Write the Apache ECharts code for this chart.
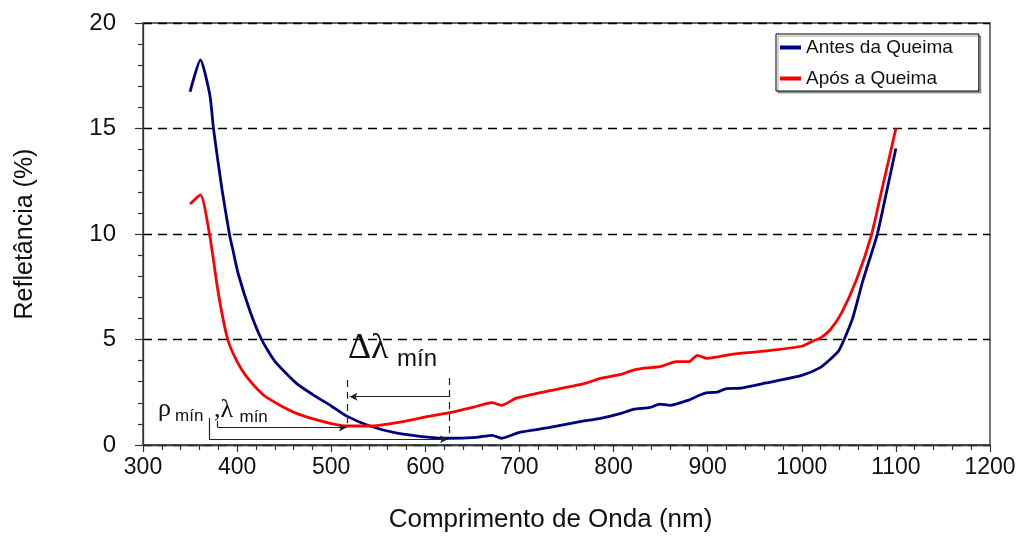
<!DOCTYPE html>
<html><head><meta charset="utf-8">
<script src="https://cdn.jsdelivr.net/npm/echarts@6/dist/echarts.min.js"></script>
<style>html,body{margin:0;padding:0;background:#fff}#c{width:1017px;height:537px}</style>
</head><body><div id="c"></div>
<script>
// ---- data ----
const antesName = 'Antes da Queima';
const aposName = 'Após a Queima';
const antesNm  = [350,361,371,375,384,392,396,401,414,426,440,463,480,500,516,541,570,605,625,654,671,681,700,731,770,786,808,821,839,849,860,878,892,900,910,920,934,962,1000,1020,1030,1039,1045,1054,1065,1080,1089,1100];
const antesVal = [16.74,18.25,16.6,14.95,12.1,9.95,9.15,8.14,6.3,5.0,3.97,2.92,2.4,1.85,1.38,0.9,0.56,0.36,0.32,0.36,0.46,0.32,0.6,0.82,1.15,1.26,1.5,1.69,1.78,1.94,1.88,2.10,2.37,2.48,2.51,2.67,2.69,2.94,3.30,3.68,4.05,4.45,5.0,6.0,7.8,9.95,11.77,14.05];
const aposNm   = [350,361,371,380,390,400,410,428,445,463,480,499,516,541,570,605,626,650,671,681,696,731,770,786,808,821,835,849,867,880,889,899,927,962,1000,1012,1020,1030,1042,1058,1074,1085,1100];
const aposVal  = [11.42,11.85,9.9,7.2,5.0,3.95,3.24,2.37,1.9,1.50,1.25,1.03,0.90,0.90,1.06,1.37,1.53,1.78,2.01,1.88,2.21,2.56,2.92,3.16,3.35,3.55,3.65,3.71,3.95,3.95,4.25,4.11,4.31,4.46,4.68,4.93,5.08,5.45,6.24,7.82,9.95,12.08,15.0];
const xName = 'Comprimento de Onda (nm)';
const yName = 'Refletância (%)';

// annotation segments in data space [x1,y1,x2,y2]
const annoDashed = [[517.5,3.08,517.5,0.88],[625.5,3.18,625.5,0.30]];
const annoArrows = [[625.5,2.29,519.5,2.29],[370.1,0.27,624,0.27],[379.4,0.83,516.5,0.83]];
const annoPlain  = [[370.1,1.28,370.1,0.27],[379.4,1.15,379.4,0.83]];
// annotation texts: [text, x, baselineY, kind]
const annoTexts = [
  ['Δλ', 517.8, 4.08, 'bigSerif'],
  ['mín', 569.9, 3.70, 'bigSans'],
  ['ρ', 315.9, 1.33, 'serif'],
  ['mín', 334.0, 1.12, 'sans'],
  [',λ', 375.5, 1.28, 'serif'],
  ['mín', 402.5, 1.07, 'sans']
];

const fonts = {
  bigSerif: {size:36, family:'"Liberation Serif", "DejaVu Serif", serif'},
  bigSans:  {size:24, family:'"Liberation Sans", Arial, sans-serif'},
  serif:    {size:26, family:'"Liberation Serif", "DejaVu Serif", serif'},
  sans:     {size:17, family:'"Liberation Sans", Arial, sans-serif'}
};

const sans = '"Liberation Sans", Arial, sans-serif';
const axisCol = '#333';

function seg(s, dashed, arrow) {
  return [
    {coord:[s[0],s[1]], symbol:'none'},
    {coord:[s[2],s[3]], symbol: arrow ? 'arrow' : 'none', symbolSize: arrow ? [6,8] : 0,
     lineStyle:{color:'#222', width:1.2, type: dashed ? [7,5] : 'solid'}}
  ];
}
const markData = [];
annoDashed.forEach(s => markData.push(seg(s, true, false)));
annoArrows.forEach(s => markData.push(seg(s, false, true)));
annoPlain.forEach(s => markData.push(seg(s, false, false)));

const chart = echarts.init(document.getElementById('c'), null, {renderer:'canvas'});
chart.setOption({
  animation: false,
  backgroundColor: '#fff',
  grid: {left:143, right:27, top:23, bottom:92, outerBoundsMode:'none', containLabel:false,
         show:true, borderColor:axisCol, borderWidth:1.3, backgroundColor:'transparent'},
  legend: {
    orient:'vertical', left:776, top:34, padding:[4,26,3,4], itemGap:12,
    itemWidth:21, itemHeight:4, icon:'rect',
    borderColor:'#000', borderWidth:1, backgroundColor:'#fff',
    shadowColor:'rgba(0,0,0,0.35)', shadowOffsetX:2, shadowOffsetY:2, shadowBlur:0,
    textStyle:{fontSize:19, color:'#111', fontFamily:sans},
    data:[antesName, aposName]
  },
  xAxis: {
    type:'value', min:300, max:1200, interval:100,
    axisLine:{show:true, lineStyle:{color:axisCol, width:1.3}},
    axisTick:{show:true, length:7, lineStyle:{color:axisCol, width:1.2}},
    minorTick:{show:true, splitNumber:5, length:5, lineStyle:{color:axisCol, width:1.2}},
    axisLabel:{fontSize:23, color:'#111', margin:11, fontFamily:sans, formatter: v => String(v)},
    splitLine:{show:false},
    name:xName, nameLocation:'middle', nameGap:62,
    nameTextStyle:{fontSize:26, color:'#111', fontFamily:sans, padding:[0,32,0,0]}
  },
  yAxis: {
    type:'value', min:0, max:20, interval:5,
    axisLine:{show:true, lineStyle:{color:axisCol, width:1.3}},
    axisTick:{show:true, length:8, lineStyle:{color:axisCol, width:1.2}},
    minorTick:{show:true, splitNumber:5, length:5, lineStyle:{color:axisCol, width:1.2}},
    axisLabel:{fontSize:24, color:'#111', margin:27, fontFamily:sans},
    splitLine:{show:true, lineStyle:{color:'#000', width:1.3, type:[9,6]}},
    name:yName, nameLocation:'middle', nameGap:105,
    nameTextStyle:{fontSize:25, color:'#111', fontFamily:sans}
  },
  series: [
    {
      name:antesName, type:'line', symbol:'none', smooth:0.2,
      data: antesNm.map((x,i)=>[x, antesVal[i]]),
      lineStyle:{width:2.8, color:'#000080'}, itemStyle:{color:'#000080'},
      markLine:{silent:true, animation:false, label:{show:false}, symbol:['none','none'], data:markData}
    },
    {
      name:aposName, type:'line', symbol:'none', smooth:0.2,
      data: aposNm.map((x,i)=>[x, aposVal[i]]),
      lineStyle:{width:2.8, color:'#ff0000'}, itemStyle:{color:'#ff0000'}
    }
  ]
});

// place annotation texts through the chart's own coordinate conversion
const gfx = annoTexts.map(([t, x, yb, kind]) => {
  const f = fonts[kind];
  const p = chart.convertToPixel({gridIndex:0}, [x, yb]);
  return {
    type:'text', silent:true, z:100,
    x: p[0], y: p[1] - 0.8 * f.size,
    style:{text:t, fill:'#111', font: f.size + 'px ' + f.family, verticalAlign:'top', align:'left'}
  };
});
chart.setOption({graphic: gfx});
</script>
</body></html>
